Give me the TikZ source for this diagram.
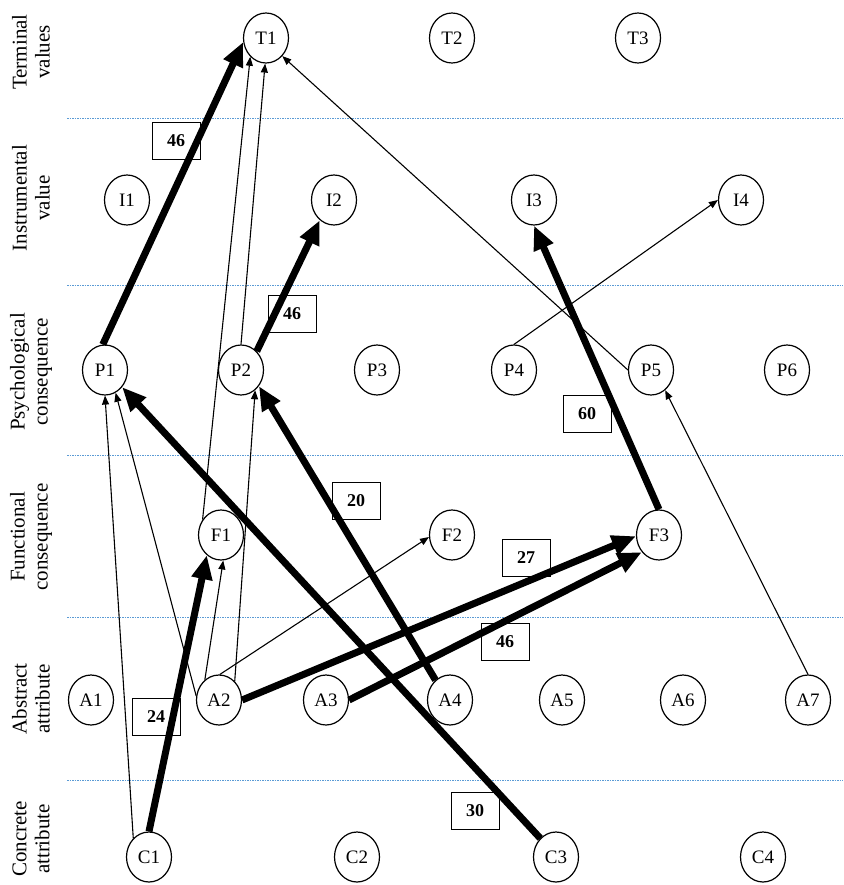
\documentclass[tikz,border=0pt]{standalone}
\usepackage{fontspec}
\setmainfont{Liberation Serif}
\usepackage{xcolor}
\usepackage{tikz}
\usetikzlibrary{shapes.geometric,arrows.meta,positioning}
\definecolor{rowline}{RGB}{91,155,213}

\tikzset{
  code/.style={ellipse, draw, line width=1.2pt, minimum width=45pt, minimum height=50pt, inner sep=0pt, font=\fontsize{19}{22}\selectfont},
  freq/.style={draw, line width=1pt, minimum width=48pt, minimum height=37pt, inner sep=0pt, font=\fontsize{18}{20}\selectfont\bfseries},
  level/.style={rotate=90, align=center, font=\fontsize{21}{23}\selectfont},
  weak/.style={-{Triangle[length=9pt,width=7pt]}, line width=1.1pt},
  strong/.style={-{Triangle[length=24pt,width=20pt]}, line width=7pt},
  sep/.style={rowline, line width=0.8pt, dash pattern=on 1.5pt off 1pt}
}

\begin{document}
\begin{tikzpicture}[x=1pt,y=-1pt]
    \useasboundingbox (0,0) rectangle (843,885);

    \draw[sep] (67,118) -- (843,118);
    \draw[sep] (67,285) -- (843,285);
    \draw[sep] (67,455) -- (843,455);
    \draw[sep] (67,617) -- (843,617);
    \draw[sep] (67,780) -- (843,780);

    \node[level] (lt) at (31,52) {Terminal\\values};
    \node[level] (li) at (31,198) {Instrumental\\value};
    \node[level] (lp) at (31,372) {Psychological\\consequence};
    \node[level] (lf) at (31,537) {Functional\\consequence};
    \node[level] (la) at (31,699) {Abstract\\attribute};
    \node[level] (lc) at (31,839) {Concrete\\attribute};

    \node[code] (T1) at (266,38) {T1};
    \node[code] (T2) at (452,38) {T2};
    \node[code] (T3) at (638,38) {T3};

    \node[code] (I1) at (127,200) {I1};
    \node[code] (I2) at (334,200) {I2};
    \node[code] (I3) at (534,200) {I3};
    \node[code] (I4) at (741,200) {I4};

    \node[code] (P1) at (105,370) {P1};
    \node[code] (P2) at (241,370) {P2};
    \node[code] (P3) at (377,370) {P3};
    \node[code] (P4) at (514,370) {P4};
    \node[code] (P5) at (651,370) {P5};
    \node[code] (P6) at (787,370) {P6};

    \node[code] (F1) at (221,535) {F1};
    \node[code] (F2) at (452,535) {F2};
    \node[code] (F3) at (659,535) {F3};

    \node[code] (A1) at (91,700) {A1};
    \node[code] (A2) at (219,700) {A2};
    \node[code] (A3) at (326,700) {A3};
    \node[code] (A4) at (450,700) {A4};
    \node[code] (A5) at (562,700) {A5};
    \node[code] (A6) at (683,700) {A6};
    \node[code] (A7) at (808,700) {A7};

    \node[code] (C1) at (149,857) {C1};
    \node[code] (C2) at (357,857) {C2};
    \node[code] (C3) at (556,857) {C3};
    \node[code] (C4) at (763,857) {C4};

    \node[freq] (n46a) at (176,141) {46};
    \node[freq] (n46b) at (292,314) {46};
    \node[freq] (n20) at (356,501) {20};
    \node[freq] (n60) at (587,414) {60};
    \node[freq] (n27) at (526,558) {27};
    \node[freq] (n46c) at (505,642) {46};
    \node[freq] (n24) at (156,717) {24};
    \node[freq] (n30) at (475,811) {30};

    \draw[weak] (F1.140) -- (T1.230);
    \draw[weak] (P2.north) -- (T1.268);
    \draw[weak] (P5.west) -- (T1.312);
    \draw[weak] (P4.north) -- (I4.west);
    \draw[weak] (A7.north) -- (P5.305);
    \draw[weak] (C1.130) -- (P1.270);
    \draw[weak] (A2.170) -- (P1.295);
    \draw[weak] (A2.125) -- (F1.275);
    \draw[weak] (A2.50) -- (P2.305);
    \draw[weak] (A2.88) -- (F2.185);

    \draw[strong] (P1.95) -- (T1.190);
    \draw[strong] (P2.50) -- (I2.235);
    \draw[strong] (F3.north) -- (I3.south);
    \draw[strong] (C1.north) -- (F1.235);
    \draw[strong] (C3.130) -- (P1.315);
    \draw[strong] (A4.126) -- (P2.318);
    \draw[strong] (A2.east) -- (F3.183);
    \draw[strong] (A3.east) -- (F3.225);
\end{tikzpicture}
\end{document}
